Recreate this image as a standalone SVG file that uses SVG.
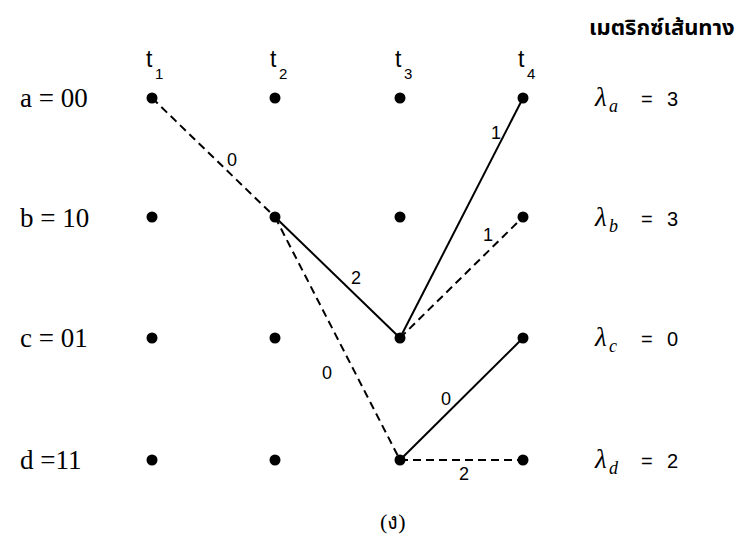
<svg xmlns="http://www.w3.org/2000/svg" width="741" height="542" viewBox="0 0 741 542">
<style>
.dot{fill:#000}
.e{stroke:#000;stroke-width:2;fill:none}
.d{stroke-dasharray:8,5}
.lbl{font-family:"Liberation Serif",serif;font-size:27px;fill:#000}
.t{font-family:"Liberation Sans",sans-serif;font-size:23px;fill:#000}
.ts{font-family:"Liberation Sans",sans-serif;font-size:15px;fill:#000}
.el{font-family:"Liberation Sans",sans-serif;font-size:18px;fill:#000}
.lam{font-family:"Liberation Serif",serif;font-style:italic;font-size:27px;fill:#000}
.lsub{font-family:"Liberation Serif",serif;font-style:italic;font-size:18px;fill:#000}
.val{font-family:"Liberation Sans",sans-serif;font-size:20px;fill:#000}
.th{font-family:"Noto Sans Thai","Loma","Garuda","Tlwg Typo",sans-serif;font-size:22px;font-weight:bold;fill:#000}
</style>
<rect width="741" height="542" fill="#fff"/>
<g id="header"><text class="th" x="589" y="35">เมตริกซ์เส้นทาง</text></g>
<g id="times">
<text class="t" x="146" y="67">t</text><text class="ts" x="155" y="79">1</text>
<text class="t" x="270" y="67">t</text><text class="ts" x="279" y="79">2</text>
<text class="t" x="395" y="67">t</text><text class="ts" x="404" y="79">3</text>
<text class="t" x="518" y="67">t</text><text class="ts" x="527" y="79">4</text>
</g>
<g id="states">
<text class="lbl" x="20" y="107">a = 00</text>
<text class="lbl" x="20" y="227">b = 10</text>
<text class="lbl" x="20" y="347">c = 01</text>
<text class="lbl" x="20" y="469">d =11</text>
</g>
<g id="connectors">
<line class="e d" x1="152" y1="98" x2="275" y2="217"/>
<line class="e" x1="275" y1="217" x2="400" y2="338"/>
<line class="e d" x1="275" y1="217" x2="400" y2="460"/>
<line class="e" x1="400" y1="338" x2="523" y2="98"/>
<line class="e d" x1="400" y1="338" x2="523" y2="217"/>
<line class="e" x1="400" y1="460" x2="523" y2="338"/>
<line class="e d" x1="400" y1="460" x2="523" y2="460"/>
<text class="el" x="227" y="166">0</text>
<text class="el" x="491" y="139">1</text>
<text class="el" x="483" y="241">1</text>
<text class="el" x="351" y="284">2</text>
<text class="el" x="322" y="379">0</text>
<text class="el" x="441" y="405">0</text>
<text class="el" x="459" y="480">2</text>
</g>
<g id="nodes">
<circle class="dot" cx="152" cy="98" r="5.5"/><circle class="dot" cx="275" cy="98" r="5.5"/><circle class="dot" cx="400" cy="98" r="5.5"/><circle class="dot" cx="523" cy="98" r="5.5"/>
<circle class="dot" cx="152" cy="217" r="5.5"/><circle class="dot" cx="275" cy="217" r="5.5"/><circle class="dot" cx="400" cy="217" r="5.5"/><circle class="dot" cx="523" cy="217" r="5.5"/>
<circle class="dot" cx="152" cy="338" r="5.5"/><circle class="dot" cx="275" cy="338" r="5.5"/><circle class="dot" cx="400" cy="338" r="5.5"/><circle class="dot" cx="523" cy="338" r="5.5"/>
<circle class="dot" cx="152" cy="460" r="5.5"/><circle class="dot" cx="275" cy="460" r="5.5"/><circle class="dot" cx="400" cy="460" r="5.5"/><circle class="dot" cx="523" cy="460" r="5.5"/>
</g>
<g id="metrics">
<text class="lam" x="595" y="106">λ</text><text class="lsub" x="609" y="112">a</text><text class="val" x="641" y="106">=</text><text class="val" x="667" y="106">3</text>
<text class="lam" x="595" y="226">λ</text><text class="lsub" x="609" y="232">b</text><text class="val" x="641" y="226">=</text><text class="val" x="667" y="226">3</text>
<text class="lam" x="595" y="346">λ</text><text class="lsub" x="609" y="352">c</text><text class="val" x="641" y="346">=</text><text class="val" x="667" y="346">0</text>
<text class="lam" x="595" y="468">λ</text><text class="lsub" x="609" y="474">d</text><text class="val" x="641" y="468">=</text><text class="val" x="667" y="468">2</text>
</g>
<g id="caption"><text class="lbl" x="380" y="529" style="font-size:22px">(ง)</text></g>
</svg>
